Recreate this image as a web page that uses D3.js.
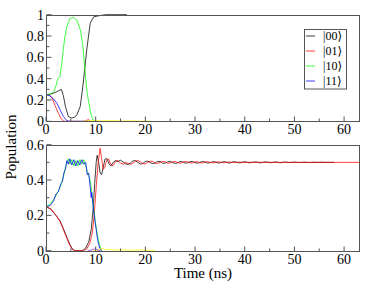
<!DOCTYPE html>
<html lang="en">
<head>
<meta charset="UTF-8">
<title>Population vs time</title>
<script src="https://d3js.org/d3.v7.min.js"></script>
<style>
  body { margin: 0; padding: 0; background: #fff; }
  svg { display: block; }
  svg text { font-family: "Liberation Serif", "Times New Roman", Times, "DejaVu Serif", serif; }
</style>
</head>
<body>
<svg id="chart" width="375" height="289"></svg>
<script>
// ---- data (time in ns, population) ----
const legendLabels = ["|00\u27E9", "|01\u27E9", "|10\u27E9", "|11\u27E9"];
const xTicks = [0, 10, 20, 30, 40, 50, 60];
const topYTicks = [0, 0.2, 0.4, 0.6, 0.8, 1];
const botYTicks = [0, 0.2, 0.4, 0.6];

// top panel
const top00 = [[0,0.25],[1,0.255],[1.8,0.27],[2.5,0.285],[3.1,0.3],[3.5,0.24],[3.9,0.14],[4.5,0.045],[5.2,0.03],[5.8,0.04],[6.2,0.06],[6.9,0.14],[7.5,0.36],[8.2,0.67],[8.9,0.92],[9.6,0.98],[10.6,0.99],[12,1.0],[16.3,1.0]];
const top01 = [[0,0.25],[0.6,0.245],[1.2,0.22],[1.8,0.15],[2.5,0.075],[3.1,0.02],[3.6,0.0],[7.8,0.0],[8.2,0.01],[8.6,0.015],[9,0.0]];
const top10 = [[0,0.25],[1,0.255],[1.6,0.28],[2,0.33],[2.3,0.39],[2.8,0.42],[3.2,0.55],[3.5,0.68],[3.8,0.79],[4.2,0.89],[4.8,0.965],[5.5,0.975],[6.2,0.95],[6.9,0.86],[7.4,0.72],[7.9,0.45],[8.3,0.26],[8.9,0.1],[9.3,0.03],[9.7,0.0]];
const top11 = [[0,0.25],[0.8,0.24],[1.5,0.21],[2.2,0.17],[2.8,0.11],[3.5,0.045],[4.2,0.005],[4.8,0.0],[8.5,0.0]];
const topLeak = [[7.5,0],[8.5,0.005],[9.5,0.008],[11,0.004],[13,0.006],[15,0.003],[17,0.004],[19,0.002],[21,0.002]];

// bottom panel
const bot00 = [[0,0.25],[1,0.235],[2,0.2],[2.8,0.17],[3.5,0.125],[4.2,0.075],[4.8,0.035],[5.3,0.01],[5.8,0],[7.3,0],[8,0.015],[8.6,0.05],[9.1,0.12],[9.5,0.24],[9.8,0.38],[10.1,0.5],[10.3,0.54],[10.6,0.5],[10.9,0.44],[11.2,0.43],[11.5,0.47],[11.9,0.52],[12.3,0.52],[12.7,0.49],[13.1,0.48],[13.5,0.5],[14,0.51]];
const bot00Tail = [0.505,0.512,0.503,0.492,0.488,0.497,0.508,0.51,0.5,0.49,
  0.494,0.505,0.507,0.498,0.493,0.497,0.506,0.504,0.495,0.496,
  0.503,0.506,0.499,0.494,0.498,0.505,0.503,0.496,0.497,0.504,
  0.505,0.498,0.495,0.5,0.505,0.502,0.496,0.498,0.504,0.503,
  0.497,0.497,0.503,0.504,0.498,0.496,0.502,0.504,0.499,0.497,
  0.501,0.504,0.5,0.497,0.5,0.503,0.501,0.497,0.499,0.503,
  0.502,0.498,0.499,0.502,0.502,0.498,0.499,0.502,0.501,0.499,
  0.5,0.502,0.5,0.499,0.5,0.501,0.5,0.499,0.5,0.501,
  0.5,0.5,0.501,0.5,0.5,0.5,0.5,0.5]; // t = 14.5 .. 58, every 0.5 ns
const bot01 = [[0,0.25],[1,0.236],[2,0.2],[2.8,0.168],[3.5,0.12],[4.2,0.07],[4.8,0.03],[5.3,0.008],[5.8,0],[7.5,0],[8.2,0.01],[8.8,0.04],[9.3,0.1],[9.7,0.2],[10.1,0.36],[10.5,0.5],[10.9,0.58],[11.2,0.52],[11.5,0.46],[11.8,0.47],[12.2,0.51],[12.6,0.52],[13,0.49],[13.5,0.48],[14,0.505],[14.5,0.51],[15,0.495],[15.6,0.49],[16,0.5]];
const bot01Tail = [0.494,0.489,0.495,0.506,0.51,0.503,0.493,0.492,0.5,0.507,
  0.505,0.496,0.494,0.501,0.506,0.503,0.495,0.496,0.503,0.505,
  0.499,0.495,0.499,0.505,0.503,0.497,0.497,0.503,0.504,0.498,
  0.497,0.501,0.504,0.5,0.497,0.499,0.503,0.502,0.498,0.498,
  0.502,0.502,0.499,0.499,0.501,0.502,0.499,0.499,0.501,0.501,
  0.5,0.499,0.501,0.501,0.5,0.5,0.5,0.501,0.5,0.5,
  0.5,0.5,0.5,0.5,0.5,0.5,0.5,0.5]; // t = 16.5 .. 50, every 0.5 ns
const bot01End = [[63,0.5]];
const bot10 = [[0,0.25],[0.8,0.26],[1.5,0.29],[2,0.31],[2.5,0.34],[3,0.37],[3.3,0.4],[3.6,0.43],[3.9,0.47],[4.2,0.5],[4.5,0.52],[4.8,0.49],[5.2,0.515],[5.6,0.48],[6,0.51],[6.4,0.48],[6.8,0.515],[7.2,0.49],[7.6,0.515],[8,0.48],[8.3,0.45],[8.6,0.42],[8.9,0.4],[9.2,0.33],[9.6,0.24],[10,0.15],[10.4,0.08],[10.8,0.03],[11.2,0.0]];
const bot11 = [[0,0.25],[0.8,0.255],[1.5,0.28],[2,0.32],[2.5,0.335],[3,0.38],[3.3,0.39],[3.6,0.44],[3.9,0.46],[4.2,0.51],[4.5,0.49],[4.8,0.52],[5.2,0.485],[5.6,0.515],[6,0.48],[6.4,0.51],[6.8,0.485],[7.2,0.515],[7.6,0.49],[8,0.5],[8.3,0.43],[8.6,0.44],[8.9,0.36],[9.1,0.3],[9.2,0.33],[9.6,0.22],[10,0.14],[10.4,0.06],[10.8,0.015],[11.2,0]];
const botLeakY = [[9.5,0],[10.5,0.005],[11,0.01],[11.5,0.012],[12,0.006],[12.5,0.008],[13.5,0.004],[15,0.005],[17,0.003],[19,0.004],[21,0.002],[22,0.002]];
const botLeakM = [[8.5,0],[9.2,0.005],[9.8,0.01],[10.3,0.004],[11,0]];

const colors = { s00: "#000000", s01: "#ff0000", s10: "#00ff00", s11: "#0000ff", leakY: "#ffff00", leakM: "#a020f0" };

// ---- layout ----
const svg = d3.select("#chart");
const left = 46, right = 359;
const x = d3.scaleLinear().domain([0, 63]).range([left, right]);

const panels = [
  { top: 14.7, bottom: 121.3, yMax: 1, ticks: topYTicks, minor: [0.1, 0.3, 0.5, 0.7, 0.9],
    series: [[top00, colors.s00], [top01, colors.s01], [top10, colors.s10], [top11, colors.s11], [topLeak, colors.leakY]] },
  { top: 144.7, bottom: 250.7, yMax: 0.6, ticks: botYTicks, minor: [0.1, 0.3, 0.5],
    series: [
      [bot00.concat(bot00Tail.map((v, i) => [14.5 + i * 0.5, v])), colors.s00],
      [bot01.concat(bot01Tail.map((v, i) => [16.5 + i * 0.5, v]), bot01End), colors.s01],
      [bot10, colors.s10], [bot11, colors.s11], [botLeakY, colors.leakY], [botLeakM, colors.leakM]
    ] }
];

const fmt = v => v === 0 ? "0" : (v === 1 ? "1" : d3.format(".1f")(v));

panels.forEach(p => {
  const y = d3.scaleLinear().domain([0, p.yMax]).range([p.bottom, p.top]);
  const g = svg.append("g");

  const line = d3.line().x(d => x(d[0])).y(d => y(d[1]));
  p.series.forEach(([data, color]) => {
    g.append("path")
      .attr("d", line(data))
      .attr("fill", "none")
      .attr("stroke", color)
      .attr("stroke-width", 0.75);
  });

  // frame
  g.append("rect")
    .attr("x", left + 0.5).attr("y", Math.round(p.top) + 0.5)
    .attr("width", right - left).attr("height", Math.round(p.bottom) - Math.round(p.top))
    .attr("fill", "none").attr("stroke", "#555").attr("stroke-width", 1);

  const yb = Math.round(p.bottom) + 0.5;
  // x ticks (inward)
  xTicks.forEach(t => {
    g.append("line").attr("x1", x(t)).attr("x2", x(t)).attr("y1", yb).attr("y2", yb - 5)
      .attr("stroke", "#555");
    g.append("text").attr("x", x(t)).attr("y", yb + 12).attr("text-anchor", "middle")
      .attr("font-size", 14).text(t);
  });
  d3.range(5, 63, 10).forEach(t => {
    g.append("line").attr("x1", x(t)).attr("x2", x(t)).attr("y1", yb).attr("y2", yb - 3)
      .attr("stroke", "#555");
  });
  // y ticks
  p.ticks.forEach(v => {
    g.append("line").attr("x1", left + 0.5).attr("x2", left + 5.5).attr("y1", y(v)).attr("y2", y(v))
      .attr("stroke", "#555");
    g.append("text").attr("x", left - 2).attr("y", y(v)).attr("dy", "0.35em")
      .attr("text-anchor", "end").attr("font-size", 14).text(fmt(v));
  });
  p.minor.forEach(v => {
    g.append("line").attr("x1", left + 0.5).attr("x2", left + 3.5).attr("y1", y(v)).attr("y2", y(v))
      .attr("stroke", "#555");
  });
});

// axis titles
svg.append("text").attr("x", 203).attr("y", 278).attr("text-anchor", "middle")
  .attr("font-size", 15).text("Time (ns)");
svg.append("text").attr("transform", "translate(16,147) rotate(-90)").attr("text-anchor", "middle")
  .attr("font-size", 15).text("Population");

// legend
const lg = svg.append("g");
lg.append("rect").attr("x", 304.5).attr("y", 29.5).attr("width", 42).attr("height", 59.5)
  .attr("fill", "#fff").attr("stroke", "#555");
const legendColors = [colors.s00, colors.s01, colors.s10, colors.s11];
const ly = d3.scalePoint().domain(legendLabels).range([36, 81]);
legendLabels.forEach((lab, i) => {
  lg.append("line").attr("x1", 306).attr("x2", 315).attr("y1", ly(lab)).attr("y2", ly(lab))
    .attr("stroke", legendColors[i]).attr("stroke-width", 0.75);
  lg.append("text").attr("x", 323).attr("y", ly(lab)).attr("dy", "0.35em")
    .attr("font-size", 12).text(lab);
});
</script>
</body>
</html>
